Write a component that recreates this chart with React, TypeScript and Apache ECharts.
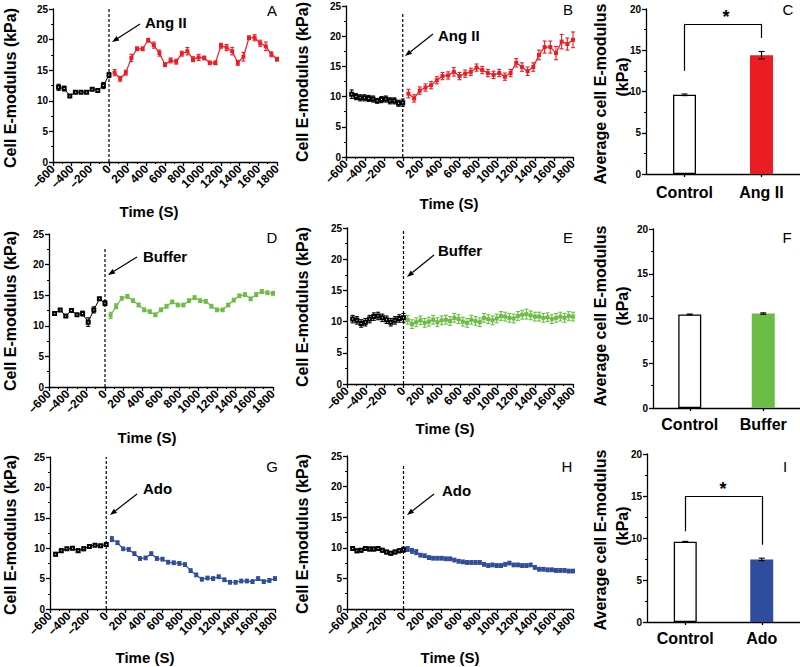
import React, { useEffect, useRef } from "react";
import * as echarts from "echarts";

const FONT = '"Liberation Sans", Arial, Helvetica, sans-serif';
const RED = "#ec1c24";
const GREEN = "#6cbd45";
const BLUE = "#2e4d9e";
const BLACK = "#000000";

// sample times
const tPre60 = [-540, -480, -420, -360, -300, -240, -180, -120, -60, 0];
const tPre45 = [-540, -495, -450, -405, -360, -315, -270, -225, -180, -135, -90, -45, 0];
const tPost60 = [60, 120, 180, 240, 300, 360, 420, 480, 540, 600, 660, 720, 780, 840, 900, 960, 1020, 1080, 1140, 1200, 1260, 1320, 1380, 1440, 1500, 1560, 1620, 1680, 1740, 1800];
const tPost45 = [45, 90, 135, 180, 225, 270, 315, 360, 405, 450, 495, 540, 585, 630, 675, 720, 765, 810, 855, 900, 945, 990, 1035, 1080, 1125, 1170, 1215, 1260, 1305, 1350, 1395, 1440, 1485, 1530, 1575, 1620, 1665, 1710, 1755, 1800];

// Panel A (Ang II)
const aPre = [12.2, 12.0, 10.8, 11.4, 11.4, 11.4, 11.9, 11.7, 12.5, 14.2];
const aPreErr = [0.5, 0.4, 0.2, 0.2, 0.2, 0.2, 0.2, 0.2, 0.5, 0.4];
const aPost = [14.6, 13.6, 14.6, 17.0, 18.5, 18.5, 19.9, 19.1, 17.8, 15.9, 16.6, 16.4, 17.7, 18.1, 16.8, 17.1, 17.0, 16.2, 16.2, 19.0, 18.7, 18.1, 16.2, 17.2, 20.3, 20.3, 19.4, 18.9, 17.6, 16.8];
const aPostErr = [0.5, 0.4, 0.4, 0.6, 0.3, 0.3, 0.3, 0.5, 0.5, 0.3, 0.4, 0.4, 0.4, 0.6, 0.4, 0.5, 0.3, 0.3, 0.3, 0.4, 0.5, 0.6, 0.4, 0.7, 0.3, 0.5, 0.5, 0.7, 0.4, 0.3];

// Panel B (Ang II)
const bPre = [10.4, 10.0, 9.8, 9.8, 9.7, 9.6, 9.3, 9.5, 9.6, 9.3, 9.3, 8.9, 9.0];
const bPreErr = [0.7, 0.5, 0.5, 0.5, 0.5, 0.5, 0.4, 0.5, 0.5, 0.5, 0.5, 0.5, 0.6];
const bPost = [10.5, 9.7, 11.0, 11.5, 11.9, 12.7, 13.4, 13.5, 14.1, 13.4, 13.8, 14.1, 14.8, 14.4, 13.9, 13.6, 13.9, 13.3, 13.9, 15.6, 14.9, 14.2, 14.9, 16.9, 18.2, 18.2, 17.2, 19.1, 18.7, 19.4];
const bPostErr = [0.7, 0.6, 0.6, 0.6, 0.6, 0.6, 0.6, 0.6, 0.7, 0.6, 0.6, 0.6, 0.6, 0.6, 0.6, 0.6, 0.6, 0.6, 0.6, 0.7, 0.7, 0.7, 0.7, 0.8, 1.0, 1.0, 1.1, 1.2, 1.0, 1.3];

// Panel D (Buffer)
const dPre = [12.0, 12.6, 11.6, 12.5, 11.8, 12.0, 10.6, 12.6, 14.4, 13.7];
const dPreErr = [0.3, 0.2, 0.2, 0.2, 0.2, 0.4, 0.7, 0.5, 0.2, 0.4];
const dPost = [11.7, 13.2, 14.5, 14.8, 14.1, 13.4, 12.6, 12.3, 11.8, 12.6, 13.2, 13.9, 13.4, 13.4, 14.1, 14.6, 14.1, 14.0, 13.2, 12.6, 12.6, 13.4, 14.2, 14.9, 15.1, 14.4, 15.1, 15.6, 15.4, 15.3];
const dPostErr = [0.5, 0.4, 0.3, 0.3, 0.3, 0.3, 0.3, 0.3, 0.3, 0.3, 0.3, 0.3, 0.3, 0.3, 0.3, 0.3, 0.3, 0.3, 0.3, 0.3, 0.3, 0.3, 0.3, 0.3, 0.3, 0.3, 0.3, 0.3, 0.3, 0.3];

// Panel E (Buffer)
const ePre = [10.4, 10.2, 9.7, 9.9, 10.4, 10.8, 10.9, 10.6, 10.3, 9.9, 10.2, 10.5, 10.6];
const ePreErr = [0.6, 0.6, 0.6, 0.6, 0.6, 0.6, 0.6, 0.6, 0.6, 0.6, 0.6, 0.6, 0.7];
const ePost = [10.3, 9.6, 9.9, 10.2, 9.8, 10.0, 10.3, 9.9, 10.2, 10.3, 10.1, 10.6, 10.4, 10.0, 9.8, 10.3, 10.1, 9.9, 10.6, 10.4, 10.2, 10.5, 10.9, 10.8, 10.6, 10.5, 10.9, 11.1, 11.2, 11.0, 10.8, 10.8, 10.6, 10.7, 10.4, 10.6, 10.8, 10.6, 10.9, 10.8];
const ePostErr = [0.7, 0.7, 0.7, 0.7, 0.7, 0.7, 0.7, 0.7, 0.7, 0.7, 0.7, 0.7, 0.7, 0.7, 0.7, 0.7, 0.7, 0.7, 0.7, 0.7, 0.7, 0.7, 0.7, 0.7, 0.7, 0.7, 0.7, 0.7, 0.8, 0.7, 0.7, 0.7, 0.7, 0.7, 0.7, 0.7, 0.7, 0.7, 0.7, 0.7];

// Panel G (Ado)
const gPre = [9.0, 9.6, 9.9, 10.0, 9.6, 9.9, 10.3, 10.5, 10.4, 10.6];
const gPreErr = [0.3, 0.3, 0.2, 0.2, 0.3, 0.3, 0.2, 0.2, 0.2, 0.3];
const gPost = [11.5, 10.9, 9.9, 9.8, 9.1, 8.3, 8.4, 9.1, 8.3, 8.2, 7.7, 7.6, 7.5, 7.3, 6.3, 5.6, 4.9, 5.1, 5.0, 5.3, 4.8, 4.4, 4.4, 4.6, 4.6, 4.5, 5.0, 4.5, 4.7, 5.0];
const gPostErr = [0.4, 0.3, 0.3, 0.3, 0.3, 0.3, 0.3, 0.3, 0.3, 0.3, 0.3, 0.3, 0.3, 0.3, 0.3, 0.3, 0.3, 0.3, 0.3, 0.3, 0.3, 0.3, 0.3, 0.3, 0.3, 0.3, 0.3, 0.3, 0.3, 0.3];

// Panel H (Ado)
const hPre = [9.9, 9.5, 9.6, 9.9, 9.8, 9.8, 9.9, 9.6, 9.3, 9.1, 9.3, 9.5, 9.7];
const hPreErr = [0.3, 0.3, 0.3, 0.3, 0.3, 0.3, 0.3, 0.3, 0.3, 0.3, 0.3, 0.3, 0.4];
const hPost = [9.8, 9.5, 9.3, 8.8, 8.7, 8.4, 8.3, 8.3, 8.3, 8.2, 8.2, 8.0, 7.8, 7.7, 7.6, 7.6, 7.6, 7.6, 7.3, 7.1, 7.2, 7.1, 7.1, 7.3, 7.5, 7.2, 7.2, 7.1, 7.1, 7.2, 6.8, 6.5, 6.5, 6.4, 6.4, 6.3, 6.3, 6.3, 6.2, 6.2];
const hPostErr = [0.4, 0.4, 0.4, 0.3, 0.3, 0.3, 0.3, 0.3, 0.3, 0.3, 0.3, 0.3, 0.3, 0.3, 0.3, 0.3, 0.3, 0.3, 0.3, 0.3, 0.3, 0.3, 0.3, 0.3, 0.3, 0.3, 0.3, 0.3, 0.3, 0.3, 0.3, 0.3, 0.3, 0.3, 0.3, 0.3, 0.3, 0.3, 0.3, 0.3];

// Bar panels
const cCats = ["Control", "Ang II"];
const cVals = [9.6, 14.4];
const cErrs = [0.1, 0.45];
const fCats = ["Control", "Buffer"];
const fVals = [10.45, 10.55];
const fErrs = [0.05, 0.08];
const iCats = ["Control", "Ado"];
const iVals = [9.55, 7.45];
const iErrs = [0.05, 0.15];

const axisLineStyle = { color: BLACK, width: 1.3 };

function errRender(color: string, cap: number) {
  return (params: any, api: any) => {
    const x = api.value(0);
    const lo = api.value(1);
    const hi = api.value(2);
    const p1 = api.coord([x, hi]);
    const p2 = api.coord([x, lo]);
    const st = { stroke: color, lineWidth: 1.1 };
    return {
      type: "group",
      children: [
        { type: "line", shape: { x1: p1[0], y1: p1[1], x2: p2[0], y2: p2[1] }, style: st },
        { type: "line", shape: { x1: p1[0] - cap, y1: p1[1], x2: p1[0] + cap, y2: p1[1] }, style: st },
        { type: "line", shape: { x1: p2[0] - cap, y1: p2[1], x2: p2[0] + cap, y2: p2[1] }, style: st },
      ],
    };
  };
}

function arrow(x1: number, y1: number, x2: number, y2: number) {
  const ang = Math.atan2(y2 - y1, x2 - x1);
  const L = 7, W = 2.6;
  const bx = x2 - L * Math.cos(ang), by = y2 - L * Math.sin(ang);
  const px = -Math.sin(ang) * W, py = Math.cos(ang) * W;
  return [
    { type: "line", shape: { x1, y1, x2: bx, y2: by }, style: { stroke: BLACK, lineWidth: 1.2 } },
    { type: "polygon", shape: { points: [[x2, y2], [bx + px, by + py], [bx - px, by - py]] }, style: { fill: BLACK } },
  ];
}

function txt(x: number, y: number, text: string, size: number, bold: boolean, align = "center", rot = 0) {
  return {
    type: "text",
    x,
    y,
    rotation: rot,
    style: {
      text,
      fontSize: size,
      fontWeight: bold ? "bold" : "normal",
      fontFamily: FONT,
      fill: BLACK,
      align,
      verticalAlign: "middle",
    },
  };
}

export default function App() {
  const ref = useRef<HTMLDivElement>(null);
  useEffect(() => {
    if (!ref.current) return;
    const chart = echarts.init(ref.current, undefined, { renderer: "svg" });

    const grids: any[] = [];
    const xAxes: any[] = [];
    const yAxes: any[] = [];
    const series: any[] = [];

    const addTime = (
      rect: number[], preT: number[], preV: number[], preE: number[],
      postT: number[], postV: number[], postE: number[], color: string, dashTop: number
    ) => {
      const i = grids.length;
      grids.push({ left: rect[0], top: rect[1], width: rect[2], height: rect[3] });
      xAxes.push({
        type: "value", gridIndex: i, min: -600, max: 1800, interval: 200,
        axisLine: { show: true, onZero: false, lineStyle: axisLineStyle },
        axisTick: { show: true, length: 4, lineStyle: axisLineStyle },
        minorTick: { show: true, splitNumber: 2, length: 2, lineStyle: { color: BLACK, width: 1 } },
        splitLine: { show: false },
        axisLabel: {
          rotate: 45, fontSize: 12, fontWeight: "bold", color: BLACK, fontFamily: FONT, margin: 5,
          showMinLabel: true, showMaxLabel: true, hideOverlap: false,
          formatter: (v: number) => (v < 0 ? "\u2013" + Math.abs(v) : String(v)),
        },
      });
      yAxes.push({
        type: "value", gridIndex: i, min: 0, max: 25, interval: 5,
        axisLine: { show: true, onZero: false, lineStyle: axisLineStyle },
        axisTick: { show: true, length: 4, lineStyle: axisLineStyle },
        minorTick: { show: true, splitNumber: 2, length: 2, lineStyle: { color: BLACK, width: 1 } },
        splitLine: { show: false },
        axisLabel: { fontSize: 10, fontWeight: "bold", color: BLACK, fontFamily: FONT, margin: 5 },
      });
      // dashed treatment line at t = 0
      series.push({
        type: "line", xAxisIndex: i, yAxisIndex: i, z: 1, silent: true,
        data: [[0, 0], [0, dashTop]], symbol: "none",
        lineStyle: { type: [3, 2], color: BLACK, width: 1.2 },
      });
      series.push({
        type: "custom", xAxisIndex: i, yAxisIndex: i, renderItem: errRender(BLACK, 2),
        data: preT.map((t, k) => [t, preV[k] - preE[k], preV[k] + preE[k]]),
        encode: { x: 0, y: [1, 2] }, z: 2, silent: true,
      });
      series.push({
        type: "custom", xAxisIndex: i, yAxisIndex: i, renderItem: errRender(color, 2),
        data: postT.map((t, k) => [t, postV[k] - postE[k], postV[k] + postE[k]]),
        encode: { x: 0, y: [1, 2] }, z: 2, silent: true,
      });
      series.push({
        type: "line", xAxisIndex: i, yAxisIndex: i, z: 3,
        data: preT.map((t, k) => [t, preV[k]]),
        symbol: "emptyRect", symbolSize: 3,
        itemStyle: { color: BLACK, borderColor: BLACK, borderWidth: 0.8 },
        lineStyle: { color: BLACK, width: 1 },
      });
      series.push({
        type: "line", xAxisIndex: i, yAxisIndex: i, z: 3,
        data: postT.map((t, k) => [t, postV[k]]),
        symbol: "rect", symbolSize: 4,
        itemStyle: { color },
        lineStyle: { color, width: 1.2 },
      });
    };

    const addBar = (
      rect: number[], cats: string[], vals: number[], errs: number[], color: string,
      labelMargin: number, bracket: number[] | null
    ) => {
      const i = grids.length;
      grids.push({ left: rect[0], top: rect[1], width: rect[2], height: rect[3] });
      xAxes.push({
        type: "category", gridIndex: i, data: cats,
        axisLine: { show: true, lineStyle: axisLineStyle },
        axisTick: { show: true, alignWithLabel: true, length: 3, lineStyle: axisLineStyle },
        axisLabel: { interval: 0, fontSize: 16, fontWeight: "bold", color: BLACK, fontFamily: FONT, margin: labelMargin },
      });
      yAxes.push({
        type: "value", gridIndex: i, min: 0, max: 20, interval: 5,
        axisLine: { show: true, lineStyle: axisLineStyle },
        axisTick: { show: true, length: 4, lineStyle: axisLineStyle },
        minorTick: { show: true, splitNumber: 2, length: 2, lineStyle: { color: BLACK, width: 1 } },
        splitLine: { show: false },
        axisLabel: { fontSize: 10, fontWeight: "bold", color: BLACK, fontFamily: FONT, margin: 5 },
      });
      const bar: any = {
        type: "bar", xAxisIndex: i, yAxisIndex: i, barWidth: 23, z: 2,
        data: [
          { value: vals[0], itemStyle: { color: "#ffffff", borderColor: BLACK, borderWidth: 1.3 } },
          { value: vals[1], itemStyle: { color } },
        ],
      };
      if (bracket) {
        bar.markLine = {
          silent: true, symbol: "none", label: { show: false },
          lineStyle: { type: "solid", color: BLACK, width: 1.2 },
          data: [
            [{ coord: [cats[0], bracket[0]] }, { coord: [cats[0], bracket[1]] }],
            [{ coord: [cats[0], bracket[1]] }, { coord: [cats[1], bracket[1]] }],
            [{ coord: [cats[1], bracket[1]] }, { coord: [cats[1], bracket[2]] }],
          ],
        };
      }
      series.push(bar);
      series.push({
        type: "custom", xAxisIndex: i, yAxisIndex: i, renderItem: errRender(BLACK, 3), z: 4, silent: true,
        data: vals.map((v, k) => [k, v - errs[k], v + errs[k]]),
        encode: { x: 0, y: [1, 2] },
      });
    };

    // Row 1
    addTime([53, 9, 224, 153], tPre60, aPre, aPreErr, tPost60, aPost, aPostErr, RED, 25);
    addTime([346, 6, 227, 151], tPre45, bPre, bPreErr, tPost60, bPost, bPostErr, RED, 23.7);
    addBar([646, 9, 154, 165], cCats, cVals, cErrs, RED, 10, [12.5, 18.2, 16.5]);
    // Row 2
    addTime([49, 234, 224, 153], tPre60, dPre, dPreErr, tPost60, dPost, dPostErr, GREEN, 22.7);
    addTime([347, 228, 226, 156], tPre45, ePre, ePreErr, tPost45, ePost, ePostErr, GREEN, 24.7);
    addBar([653, 229, 147, 179], fCats, fVals, fErrs, GREEN, 8, null);
    // Row 3
    addTime([50, 457, 225, 152], tPre60, gPre, gPreErr, tPost60, gPost, gPostErr, BLUE, 25);
    addTime([347, 456, 226, 153], tPre45, hPre, hPreErr, tPost45, hPost, hPostErr, BLUE, 23.5);
    addBar([647, 454, 153, 168], iCats, iVals, iErrs, BLUE, 8, [10.8, 15.0, 9.2]);

    const R = Math.PI / 2;
    const yName = "Cell E-modulus (kPa)";
    const avgName = "Average cell E-modulus";
    const graphic: any[] = [
      // y-axis names
      txt(10, 88, yName, 16, true, "center", R),
      txt(302, 82, yName, 16, true, "center", R),
      txt(10, 311, yName, 16, true, "center", R),
      txt(302, 307, yName, 16, true, "center", R),
      txt(10, 535, yName, 16, true, "center", R),
      txt(302, 534, yName, 16, true, "center", R),
      txt(600, 94, avgName, 16, true, "center", R),
      txt(622, 77, "(kPa)", 16, true, "center", R),
      txt(600, 316, avgName, 16, true, "center", R),
      txt(622, 306, "(kPa)", 16, true, "center", R),
      txt(600, 540, avgName, 16, true, "center", R),
      txt(622, 526, "(kPa)", 16, true, "center", R),
      // x-axis names
      txt(149, 211, "Time (S)", 15, true),
      txt(449, 203, "Time (S)", 15, true),
      txt(147, 437, "Time (S)", 15, true),
      txt(445, 428, "Time (S)", 15, true),
      txt(145, 657, "Time (S)", 15, true),
      txt(450, 657, "Time (S)", 15, true),
      // panel letters
      txt(272, 10, "A", 15, false),
      txt(568, 9, "B", 15, false),
      txt(788, 9, "C", 15, false),
      txt(272, 237, "D", 15, false),
      txt(568, 237, "E", 15, false),
      txt(787, 237, "F", 15, false),
      txt(272, 466, "G", 15, false),
      txt(567, 466, "H", 15, false),
      txt(785, 466, "I", 15, false),
      // treatment annotations
      txt(145, 22, "Ang II", 15, true, "left"),
      txt(438, 35, "Ang II", 15, true, "left"),
      txt(143, 256, "Buffer", 15, true, "left"),
      txt(438, 250, "Buffer", 15, true, "left"),
      txt(143, 488, "Ado", 15, true, "left"),
      txt(442, 490, "Ado", 15, true, "left"),
      ...arrow(140, 24, 112, 42),
      ...arrow(433, 34, 405, 56),
      ...arrow(137, 257, 108, 275),
      ...arrow(434, 255, 407, 277),
      ...arrow(137, 494, 110, 515),
      ...arrow(434, 494, 407, 515),
      // significance asterisks
      txt(726, 17, "*", 18, true),
      txt(723, 489, "*", 18, true),
    ];

    chart.setOption({
      animation: false,
      backgroundColor: "#ffffff",
      textStyle: { fontFamily: FONT },
      grid: grids,
      xAxis: xAxes,
      yAxis: yAxes,
      series,
      graphic,
    });
    return () => chart.dispose();
  }, []);
  return (
    <div
      ref={ref}
      style={{ position: "absolute", left: 0, top: 0, width: 800, height: 667, background: "#fff" }}
    />
  );
}
